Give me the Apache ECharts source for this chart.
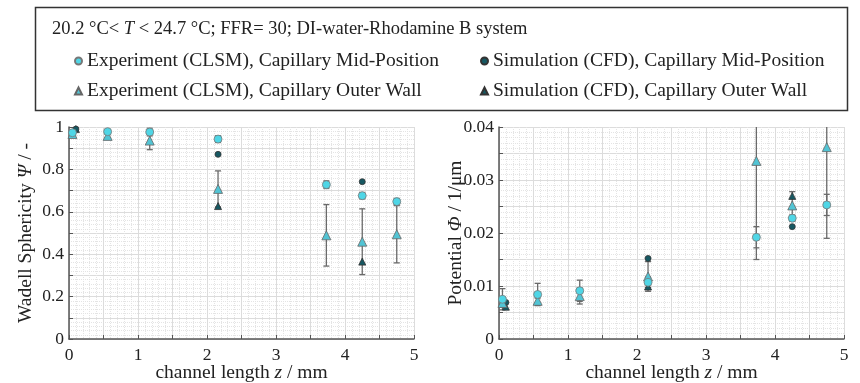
<!DOCTYPE html>
<html>
<head>
<meta charset="utf-8">
<script src="https://cdn.jsdelivr.net/npm/echarts@6/dist/echarts.min.js"></script>
<style>
  html, body { margin: 0; padding: 0; background: #fff; }
  #chart { width: 860px; height: 383px; }
</style>
</head>
<body>
<div id="chart"></div>
<script>
// channel positions (mm)
var zExp = [0.05, 0.56, 1.17, 2.16, 3.73, 4.25, 4.75];
var zSim = [0.1, 2.16, 4.25];

// Wadell sphericity
var psiExpMid = [0.973, 0.978, 0.976, 0.943, 0.728, 0.676, 0.648];
var psiExpMidErr = [0.010, 0.008, 0.018, 0.016, 0.018, 0.015, 0.015];
var psiExpWall = [0.967, 0.958, 0.936, 0.708, 0.489, 0.459, 0.494];
var psiExpWallErr = [0.010, 0.008, 0.043, 0.085, 0.145, 0.155, 0.135];
var psiSimMid = [0.99, 0.871, 0.742];
var psiSimWall = [0.99, 0.627, 0.365];

// potential (1/um)
var phiExpMid = [0.0075, 0.0084, 0.0091, 0.0107, 0.0192, 0.0228, 0.0253];
var phiExpMidErr = [0.0020, 0.0021, 0.0020, 0.0010, 0.0020, 0.0006, 0.0020];
var phiExpWall = [0.0068, 0.0072, 0.0081, 0.0118, 0.0336, 0.0252, 0.0362];
var phiExpWallErr = [0.0008, 0.0005, 0.0015, 0.0028, 0.0186, 0.0026, 0.0172];
var phiSimMid = [0.0069, 0.0152, 0.0212];
var phiSimWall = [0.0061, 0.0099, 0.027];

var names = [
  'Experiment (CLSM), Capillary Mid-Position',
  'Experiment (CLSM), Capillary Outer Wall',
  'Simulation (CFD), Capillary Mid-Position',
  'Simulation (CFD), Capillary Outer Wall'
];

var serif = "'Liberation Serif', 'Times New Roman', Times, serif";
var cExpMid = '#4fd6e6';
var cExpWall = '#52c4d4';
var cSim = '#165862';

function pairs(xs, ys, errs) {
  return xs.map(function (x, i) {
    return errs ? [x, ys[i], errs[i]] : [x, ys[i]];
  });
}

// only label every other tick
function everyOther(step) {
  return function (v) {
    var k = v / step;
    return Math.abs(k - Math.round(k)) < 1e-6 ? String(+v.toFixed(4)) : '';
  };
}

function errorBars(idx, data) {
  return {
    type: 'custom',
    name: 'err' + idx,
    xAxisIndex: idx, yAxisIndex: idx,
    z: 1,
    silent: true,
    data: data,
    renderItem: function (params, api) {
      var cs = params.coordSys;
      var x = api.value(0), y = api.value(1), e = api.value(2);
      var top = api.coord([x, y + e]);
      var bot = api.coord([x, y - e]);
      var ty = Math.max(top[1], cs.y);
      var by = Math.min(bot[1], cs.y + cs.height);
      var st = { stroke: '#6a6a6a', lineWidth: 1.3 };
      var kids = [{ type: 'line', shape: { x1: top[0], y1: ty, x2: bot[0], y2: by }, style: st }];
      if (top[1] >= cs.y) kids.push({ type: 'line', shape: { x1: top[0] - 3, y1: top[1], x2: top[0] + 3, y2: top[1] }, style: st });
      if (bot[1] <= cs.y + cs.height) kids.push({ type: 'line', shape: { x1: bot[0] - 3, y1: bot[1], x2: bot[0] + 3, y2: bot[1] }, style: st });
      return { type: 'group', children: kids };
    }
  };
}

function scatter(idx, name, data, symbol, color, size, border) {
  return {
    type: 'scatter', name: name,
    xAxisIndex: idx, yAxisIndex: idx,
    z: 3,
    symbol: symbol, symbolSize: size,
    data: data,
    itemStyle: { color: color, borderColor: border, borderWidth: 0.8, opacity: 1 }
  };
}

var nameStyle = { fontFamily: serif, fontSize: 19.5, color: '#222',
  rich: { i: { fontFamily: serif, fontStyle: 'italic', fontSize: 19.5, color: '#222' } } };

function xAxis(idx) {
  return {
    type: 'value', gridIndex: idx,
    min: 0, max: 5, interval: 0.5,
    name: 'channel length {i|z} / mm',
    nameLocation: 'middle', nameGap: 24, nameMoveOverlap: false,
    nameTextStyle: nameStyle,
    axisLine: { onZero: false, lineStyle: { color: '#555', width: 1.5 } },
    axisTick: { inside: true, length: 4, lineStyle: { color: '#555' } },
    axisLabel: { formatter: everyOther(1), margin: 7, fontFamily: serif, fontSize: 17.5, color: '#222' },
    splitLine: { lineStyle: { color: '#dcdcdc', width: 1 } },
    minorTick: { show: false, splitNumber: 5 },
    minorSplitLine: { show: true, lineStyle: { color: '#e4e4e4', type: [1, 1], width: 1 } }
  };
}

function yAxis(idx, max, interval, name) {
  return {
    type: 'value', gridIndex: idx,
    min: 0, max: max, interval: interval,
    name: name,
    nameLocation: 'middle', nameGap: 33, nameRotate: 90, nameMoveOverlap: false,
    nameTextStyle: nameStyle,
    axisLine: { show: true, onZero: false, lineStyle: { color: '#555', width: 1.5 } },
    axisTick: { inside: true, length: 4, lineStyle: { color: '#555' } },
    axisLabel: { formatter: everyOther(interval * 2), margin: 5, fontFamily: serif, fontSize: 17.5, color: '#222' },
    splitLine: { lineStyle: { color: '#dcdcdc', width: 1 } },
    minorTick: { show: false, splitNumber: 5 },
    minorSplitLine: { show: true, lineStyle: { color: '#e4e4e4', type: [1, 1], width: 1 } }
  };
}

var chart = echarts.init(document.getElementById('chart'));

var legendText = { fontFamily: serif, fontSize: 19.5, color: '#222' };

option = {
  animation: false,
  title: {
    text: '20.2 °C< {i|T} < 24.7 °C; FFR= 30; DI-water-Rhodamine B system',
    left: 47, top: 15,
    textStyle: { fontFamily: serif, fontSize: 18.5, fontWeight: 'normal', color: '#222',
      rich: { i: { fontFamily: serif, fontStyle: 'italic', fontSize: 18.5, color: '#222' } } }
  },
  graphic: [{
    type: 'rect', left: 33, top: 5,
    shape: { width: 812, height: 103 },
    style: { fill: 'none', stroke: '#333', lineWidth: 1.5 }
  }],
  legend: [{
    left: 69, top: 46, orient: 'vertical', itemGap: 10,
    itemWidth: 7, itemHeight: 7, textStyle: legendText,
    data: [{ name: names[0], icon: 'circle' }, { name: names[1], icon: 'triangle' }]
  }, {
    left: 475, top: 46, orient: 'vertical', itemGap: 10,
    itemWidth: 7, itemHeight: 7, textStyle: legendText,
    data: [{ name: names[2], icon: 'circle' }, { name: names[3], icon: 'triangle' }]
  }],
  grid: [
    { left: 69, right: 446, top: 127, bottom: 44, outerBoundsMode: 'none' },
    { left: 499, right: 16, top: 127, bottom: 44, outerBoundsMode: 'none' }
  ],
  xAxis: [xAxis(0), xAxis(1)],
  yAxis: [
    yAxis(0, 1, 0.1, 'Wadell Sphericity {i|Ψ} / -'),
    yAxis(1, 0.04, 0.005, 'Potential {i|Φ} / 1/μm')
  ],
  series: [
    errorBars(0, pairs(zExp, psiExpWall, psiExpWallErr)),
    errorBars(0, pairs(zExp, psiExpMid, psiExpMidErr)),
    scatter(0, names[3], pairs(zSim, psiSimWall), 'triangle', cSim, 7, '#333'),
    scatter(0, names[2], pairs(zSim, psiSimMid), 'circle', cSim, 6, '#333'),
    scatter(0, names[1], pairs(zExp, psiExpWall), 'triangle', cExpWall, 9, '#666'),
    scatter(0, names[0], pairs(zExp, psiExpMid), 'circle', cExpMid, 8, '#777'),

    errorBars(1, pairs(zExp, phiExpWall, phiExpWallErr)),
    errorBars(1, pairs(zExp, phiExpMid, phiExpMidErr)),
    scatter(1, names[3], pairs(zSim, phiSimWall), 'triangle', cSim, 7, '#333'),
    scatter(1, names[2], pairs(zSim, phiSimMid), 'circle', cSim, 6, '#333'),
    scatter(1, names[1], pairs(zExp, phiExpWall), 'triangle', cExpWall, 9, '#666'),
    scatter(1, names[0], pairs(zExp, phiExpMid), 'circle', cExpMid, 8, '#777')
  ]
};

chart.setOption(option);
</script>
</body>
</html>
